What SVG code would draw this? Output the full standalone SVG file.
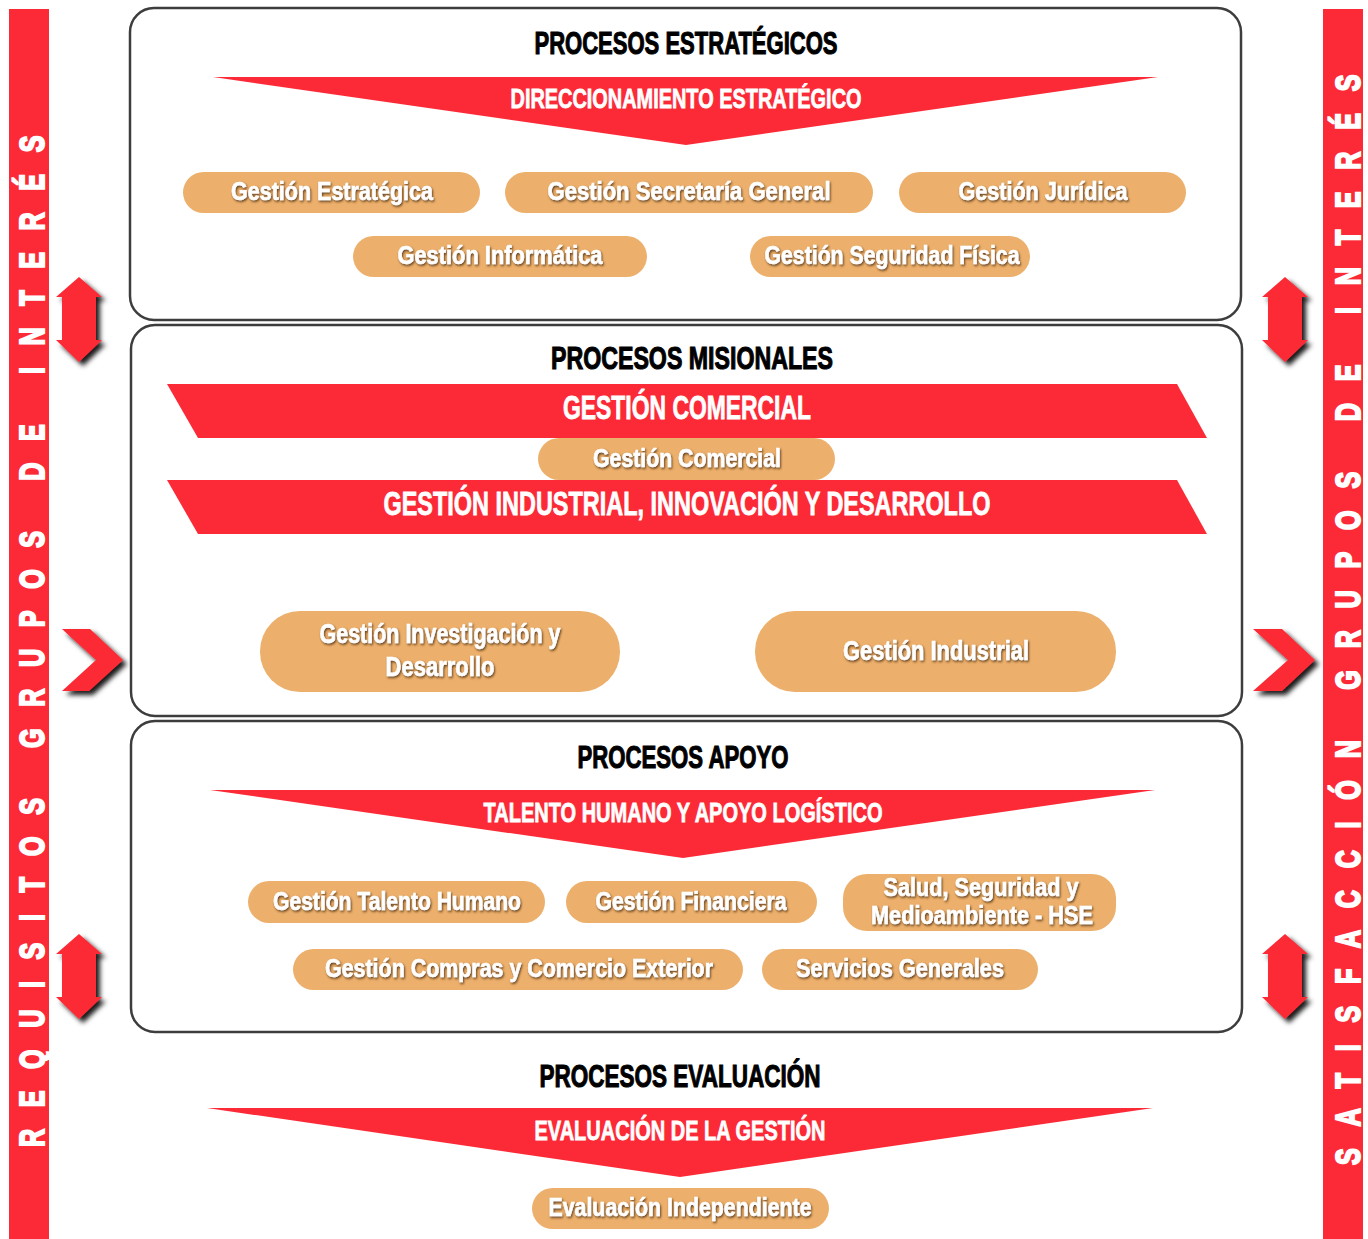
<svg xmlns="http://www.w3.org/2000/svg" width="1368" height="1239" viewBox="0 0 1368 1239">
  <defs>
    <style>
      .bar { fill: #FC2A36; }
      .side { font-family: "Liberation Sans", "DejaVu Sans", sans-serif; font-weight: bold; font-size: 36px; fill: #ffffff; stroke: #ffffff; stroke-width: 2.2; stroke-linejoin: miter; }
      .box { fill: #ffffff; stroke: #3d3d3d; stroke-width: 2.5; }
      .red { fill: #FC2A36; }
      .pill { fill: #EDB06C; }
      .title { font-family: "Liberation Sans", "DejaVu Sans", sans-serif; font-weight: bold; font-size: 32px; fill: #000000; stroke: #000000; stroke-width: 1.1; text-anchor: middle; }
      .band { font-family: "Liberation Sans", "DejaVu Sans", sans-serif; font-weight: bold; font-size: 28px; fill: #ffffff; stroke: #ffffff; stroke-width: 0.8; text-anchor: middle; }
      .band-lg { font-size: 33px; }
      .ptxt { font-family: "Liberation Sans", "DejaVu Sans", sans-serif; font-weight: bold; font-size: 25px; fill: #ffffff; stroke: #ffffff; stroke-width: 0.6; text-anchor: middle; filter: url(#txtShadow); }
      .ptxt-lg { font-size: 27px; }
      .arrow { fill: #FC2A36; filter: url(#arrowShadow); }
    </style>
    <filter id="txtShadow" x="-10%" y="-30%" width="120%" height="160%">
      <feDropShadow dx="1" dy="1.5" stdDeviation="1.2" flood-color="#4a2c08" flood-opacity="0.85"/>
    </filter>
    <filter id="arrowShadow" x="-30%" y="-30%" width="170%" height="170%">
      <feDropShadow dx="4" dy="4" stdDeviation="2.5" flood-color="#000000" flood-opacity="0.9"/>
    </filter>
  </defs>

  <!-- side bars -->
  <g id="bar-left">
    <rect class="bar" x="9" y="9" width="40" height="1230"/>
    <text class="side" transform="translate(44,1147) rotate(-90) scale(0.7,1)" x="0" y="0" textLength="1445" lengthAdjust="spacing">REQUISITOS GRUPOS DE INTERÉS</text>
  </g>
  <g id="bar-right">
    <rect class="bar" x="1323" y="9" width="40" height="1230"/>
    <text class="side" transform="translate(1360,1165) rotate(-90) scale(0.7,1)" x="0" y="0" textLength="1558" lengthAdjust="spacing">SATISFACCIÓN GRUPOS DE INTERÉS</text>
  </g>

  <!-- side arrows -->
  <g id="arrows-left">
    <polygon class="arrow" points="79,277 102,297 96,297 96,340 102,340 79,362 56,340 62,340 62,297 56,297"/>
    <polygon class="arrow" points="62,629 90,629 123,660 89,691 62,691 96,660"/>
    <polygon class="arrow" points="79,934 102,954 96,954 96,997 102,997 79,1019 56,997 62,997 62,954 56,954"/>
  </g>
  <g id="arrows-right">
    <polygon class="arrow" points="1285,277 1308,297 1302,297 1302,340 1308,340 1285,362 1262,340 1268,340 1268,297 1262,297"/>
    <polygon class="arrow" points="1253,629 1282,629 1315,660 1282,691 1253,691 1288,660"/>
    <polygon class="arrow" points="1285,934 1308,954 1302,954 1302,997 1308,997 1285,1019 1262,997 1268,997 1268,954 1262,954"/>
  </g>

  <!-- strategic processes -->
  <g id="estrategicos">
    <rect class="box" x="130" y="8" width="1111" height="312" rx="24"/>
    <text class="title" x="686" y="54" textLength="303" lengthAdjust="spacingAndGlyphs">PROCESOS ESTRATÉGICOS</text>
    <polygon class="red" points="213,77 1158,77 686,145"/>
    <text class="band" x="686" y="108" textLength="351" lengthAdjust="spacingAndGlyphs">DIRECCIONAMIENTO ESTRATÉGICO</text>
  </g>
  <g id="gestion-estrategica">
    <rect class="pill" x="183" y="172" width="297" height="41" rx="20.5"/>
    <text class="ptxt" x="332" y="200" textLength="202" lengthAdjust="spacingAndGlyphs">Gestión Estratégica</text>
  </g>
  <g id="gestion-secretaria">
    <rect class="pill" x="505" y="172" width="368" height="41" rx="20.5"/>
    <text class="ptxt" x="689" y="200" textLength="283" lengthAdjust="spacingAndGlyphs">Gestión Secretaría General</text>
  </g>
  <g id="gestion-juridica">
    <rect class="pill" x="899" y="172" width="287" height="41" rx="20.5"/>
    <text class="ptxt" x="1043" y="200" textLength="169" lengthAdjust="spacingAndGlyphs">Gestión Jurídica</text>
  </g>
  <g id="gestion-informatica">
    <rect class="pill" x="353" y="236" width="294" height="41" rx="20.5"/>
    <text class="ptxt" x="500" y="264" textLength="205" lengthAdjust="spacingAndGlyphs">Gestión Informática</text>
  </g>
  <g id="gestion-seguridad">
    <rect class="pill" x="750" y="236" width="280" height="41" rx="20.5"/>
    <text class="ptxt" x="892" y="264" textLength="255" lengthAdjust="spacingAndGlyphs">Gestión Seguridad Física</text>
  </g>

  <!-- mission processes -->
  <g id="misionales">
    <rect class="box" x="131" y="325" width="1111" height="391" rx="24"/>
    <text class="title" x="692" y="369" textLength="282" lengthAdjust="spacingAndGlyphs">PROCESOS MISIONALES</text>
    <polygon class="red" points="167,384 1177,384 1207,438 198,438"/>
    <text class="band band-lg" x="687" y="419" textLength="248" lengthAdjust="spacingAndGlyphs">GESTIÓN COMERCIAL</text>
    <polygon class="red" points="167,480 1177,480 1207,534 198,534"/>
    <text class="band band-lg" x="687" y="515" textLength="607" lengthAdjust="spacingAndGlyphs">GESTIÓN INDUSTRIAL, INNOVACIÓN Y DESARROLLO</text>
  </g>
  <g id="gestion-comercial">
    <rect class="pill" x="538" y="438" width="297" height="42" rx="21"/>
    <text class="ptxt" x="687" y="467" textLength="188" lengthAdjust="spacingAndGlyphs">Gestión Comercial</text>
  </g>
  <g id="gestion-investigacion">
    <rect class="pill" x="260" y="611" width="360" height="81" rx="40"/>
    <text class="ptxt ptxt-lg" x="440" y="643" textLength="241" lengthAdjust="spacingAndGlyphs">Gestión Investigación y</text>
    <text class="ptxt ptxt-lg" x="440" y="676" textLength="109" lengthAdjust="spacingAndGlyphs">Desarrollo</text>
  </g>
  <g id="gestion-industrial">
    <rect class="pill" x="755" y="611" width="361" height="81" rx="40"/>
    <text class="ptxt ptxt-lg" x="936" y="660" textLength="186" lengthAdjust="spacingAndGlyphs">Gestión Industrial</text>
  </g>

  <!-- support processes -->
  <g id="apoyo">
    <rect class="box" x="131" y="721" width="1111" height="311" rx="24"/>
    <text class="title" x="683" y="768" textLength="211" lengthAdjust="spacingAndGlyphs">PROCESOS APOYO</text>
    <polygon class="red" points="210,790 1155,790 683,858"/>
    <text class="band" x="683" y="822" textLength="399" lengthAdjust="spacingAndGlyphs">TALENTO HUMANO Y APOYO LOGÍSTICO</text>
  </g>
  <g id="gestion-talento">
    <rect class="pill" x="248" y="881" width="297" height="42" rx="21"/>
    <text class="ptxt" x="397" y="910" textLength="248" lengthAdjust="spacingAndGlyphs">Gestión Talento Humano</text>
  </g>
  <g id="gestion-financiera">
    <rect class="pill" x="566" y="881" width="251" height="42" rx="21"/>
    <text class="ptxt" x="691" y="910" textLength="191" lengthAdjust="spacingAndGlyphs">Gestión Financiera</text>
  </g>
  <g id="hse">
    <rect class="pill" x="843" y="874" width="273" height="57" rx="24"/>
    <text class="ptxt" x="981" y="896" textLength="195" lengthAdjust="spacingAndGlyphs">Salud, Seguridad y</text>
    <text class="ptxt" x="982" y="924" textLength="222" lengthAdjust="spacingAndGlyphs">Medioambiente - HSE</text>
  </g>
  <g id="gestion-compras">
    <rect class="pill" x="293" y="949" width="450" height="41" rx="20.5"/>
    <text class="ptxt" x="519" y="977" textLength="388" lengthAdjust="spacingAndGlyphs">Gestión Compras y Comercio Exterior</text>
  </g>
  <g id="servicios-generales">
    <rect class="pill" x="762" y="949" width="276" height="41" rx="20.5"/>
    <text class="ptxt" x="900" y="977" textLength="208" lengthAdjust="spacingAndGlyphs">Servicios Generales</text>
  </g>

  <!-- evaluation processes -->
  <g id="evaluacion">
    <text class="title" x="680" y="1087" textLength="281" lengthAdjust="spacingAndGlyphs">PROCESOS EVALUACIÓN</text>
    <polygon class="red" points="207,1108 1153,1108 680,1177"/>
    <text class="band" x="680" y="1140" textLength="291" lengthAdjust="spacingAndGlyphs">EVALUACIÓN DE LA GESTIÓN</text>
  </g>
  <g id="evaluacion-independiente">
    <rect class="pill" x="532" y="1188" width="297" height="41" rx="20.5"/>
    <text class="ptxt" x="680" y="1216" textLength="263" lengthAdjust="spacingAndGlyphs">Evaluación Independiente</text>
  </g>

  <!-- no connectors between nodes -->
  <g id="connectors"/>
</svg>
